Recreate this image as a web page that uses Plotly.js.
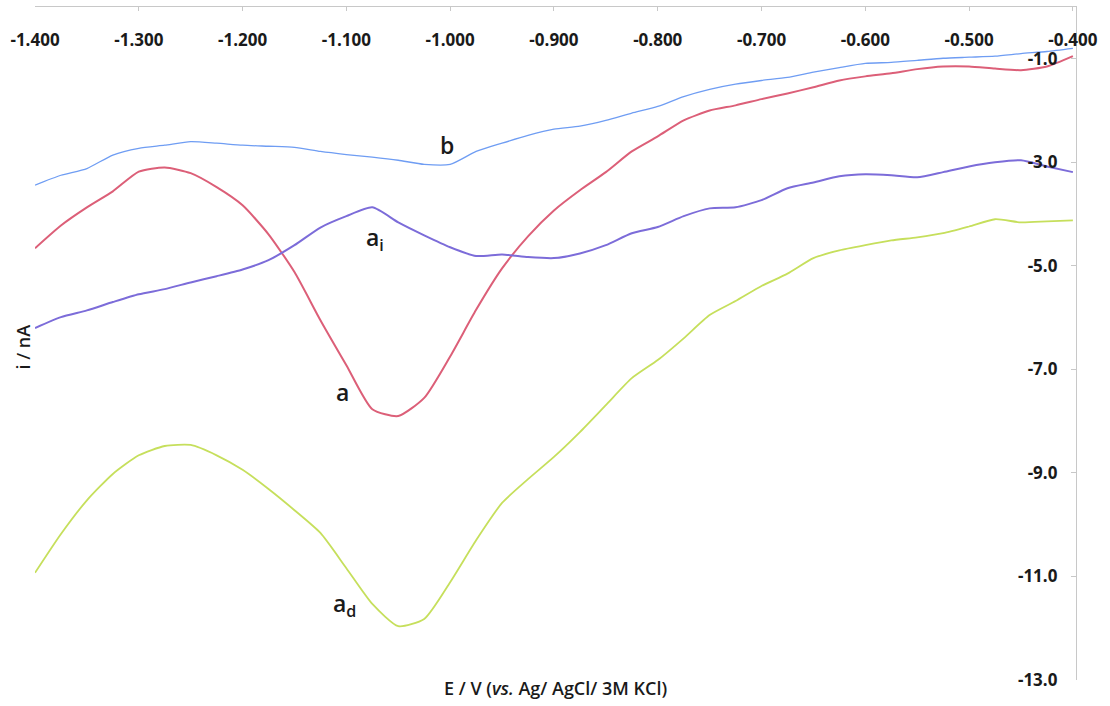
<!DOCTYPE html>
<html>
<head>
<meta charset="utf-8">
<script src="https://cdn.plot.ly/plotly-3.0.1.min.js"></script>
<style>
html,body{margin:0;padding:0;background:#fff;}
#chart{width:1110px;height:706px;}
</style>
</head>
<body>
<div id="chart"></div>
<script>
// Potential E / V (vs. Ag/AgCl/3M KCl)
const potential = [-1.400,-1.375,-1.350,-1.325,-1.300,-1.275,-1.250,-1.225,-1.200,-1.175,
  -1.150,-1.125,-1.100,-1.075,-1.050,-1.025,-1.000,-0.975,-0.950,-0.925,
  -0.900,-0.875,-0.850,-0.825,-0.800,-0.775,-0.750,-0.725,-0.700,-0.675,
  -0.650,-0.625,-0.600,-0.575,-0.550,-0.525,-0.500,-0.475,-0.450,-0.425,-0.400];

// Current i / nA for each curve
const curveB = [-3.44,-3.25,-3.12,-2.86,-2.73,-2.67,-2.60,-2.63,-2.67,-2.69,
  -2.71,-2.79,-2.85,-2.90,-2.96,-3.04,-3.04,-2.79,-2.63,-2.48,
  -2.36,-2.30,-2.19,-2.05,-1.92,-1.73,-1.59,-1.49,-1.42,-1.36,
  -1.26,-1.17,-1.09,-1.07,-1.03,-0.99,-0.97,-0.95,-0.90,-0.86,-0.80];

const curveA = [-4.66,-4.22,-3.87,-3.56,-3.18,-3.10,-3.21,-3.48,-3.83,-4.39,
  -5.12,-6.05,-6.92,-7.77,-7.90,-7.55,-6.75,-5.85,-5.05,-4.43,
  -3.93,-3.54,-3.19,-2.79,-2.50,-2.19,-2.00,-1.90,-1.78,-1.67,
  -1.55,-1.42,-1.34,-1.28,-1.20,-1.15,-1.15,-1.19,-1.22,-1.15,-0.95];

const curveAi = [-6.20,-5.99,-5.86,-5.70,-5.55,-5.45,-5.32,-5.20,-5.07,-4.89,
  -4.60,-4.26,-4.04,-3.87,-4.16,-4.41,-4.64,-4.81,-4.78,-4.83,
  -4.85,-4.76,-4.60,-4.37,-4.25,-4.04,-3.89,-3.87,-3.73,-3.50,
  -3.39,-3.27,-3.23,-3.25,-3.29,-3.19,-3.08,-3.00,-2.96,-3.08,-3.19];

const curveAd = [-10.93,-10.18,-9.53,-9.02,-8.66,-8.48,-8.46,-8.66,-8.94,-9.31,
  -9.72,-10.16,-10.84,-11.53,-11.96,-11.82,-11.11,-10.30,-9.58,-9.12,
  -8.69,-8.21,-7.69,-7.17,-6.82,-6.40,-5.95,-5.68,-5.39,-5.15,
  -4.85,-4.70,-4.60,-4.51,-4.45,-4.37,-4.24,-4.10,-4.16,-4.14,-4.12];

const xTicks = [-1.4,-1.3,-1.2,-1.1,-1.0,-0.9,-0.8,-0.7,-0.6,-0.5,-0.4];
const xTickText = ["-1.400","-1.300","-1.200","-1.100","-1.000","-0.900","-0.800","-0.700","-0.600","-0.500","-0.400"];
const yTicks = [-1,-3,-5,-7,-9,-11,-13];
const yTickText = ["-1.0","-3.0","-5.0","-7.0","-9.0","-11.0","-13.0"];

const labelNames = ["b","a<sub>i</sub>","a","a<sub>d</sub>"];
const labelX = [-1.003,-1.072,-1.104,-1.102];
const labelY = [-2.67,-4.48,-7.44,-11.55];

const traces = [
  {x: potential, y: curveB, mode:'lines', line:{color:'#6f9df3', width:1.3, shape:'spline', smoothing:0.6}},
  {x: potential, y: curveA, mode:'lines', line:{color:'#dc5f78', width:2, shape:'spline', smoothing:0.6}},
  {x: potential, y: curveAi, mode:'lines', line:{color:'#7c6cd9', width:2, shape:'spline', smoothing:0.6}},
  {x: potential, y: curveAd, mode:'lines', line:{color:'#c6df5c', width:1.8, shape:'spline', smoothing:0.6}}
];

const FAM = '"Open Sans", "Liberation Sans", sans-serif';
const tickFont = {family:FAM, size:17, color:'#1a1a1a', weight:700};
const lblFont = {family:FAM, size:23, color:'#1a1a1a', weight:600};

const annotations = labelNames.map((t,i)=>({
  x: labelX[i], y: labelY[i], xref:'x', yref:'y', text:t, showarrow:false,
  font: lblFont, xanchor:'center', yanchor:'middle'
}));
annotations.push({
  xref:'paper', yref:'paper', x:0.5, y:-0.012, xanchor:'center', yanchor:'middle',
  text:'E / V (<i>vs.</i> Ag/ AgCl/ 3M KCl)', showarrow:false,
  font:{family:FAM, size:18, color:'#1a1a1a', weight:600}
});
annotations.push({
  xref:'paper', yref:'paper', x:-0.0115, y:0.494, xanchor:'center', yanchor:'middle',
  text:'i / nA', textangle:-90, showarrow:false,
  font:{family:FAM, size:18, color:'#1a1a1a', weight:600}
});

const layout = {
  width:1110, height:706,
  margin:{l:35, r:34, t:7, b:26},
  paper_bgcolor:'#ffffff', plot_bgcolor:'#ffffff',
  showlegend:false,
  xaxis:{
    range:[-1.4,-0.397], side:'top', showgrid:false, zeroline:false,
    showline:true, linecolor:'#c8c8c8', linewidth:1,
    ticks:'inside', ticklen:4, tickcolor:'#c8c8c8',
    tickvals:xTicks, ticktext:xTickText, tickfont:tickFont,
    ticklabelposition:'inside', ticklabelstandoff:24, ticklabeloverflow:'allow'
  },
  yaxis:{
    range:[-13,0], side:'right', showgrid:false, zeroline:false,
    showline:true, linecolor:'#c8c8c8', linewidth:1,
    ticks:'inside', ticklen:5, tickcolor:'#c8c8c8',
    tickvals:yTicks, ticktext:yTickText, tickfont:tickFont,
    ticklabelposition:'inside', ticklabelstandoff:14, ticklabeloverflow:'allow'
  },
  annotations: annotations
};

Plotly.newPlot('chart', traces, layout, {displayModeBar:false, staticPlot:true});
</script>
</body>
</html>
